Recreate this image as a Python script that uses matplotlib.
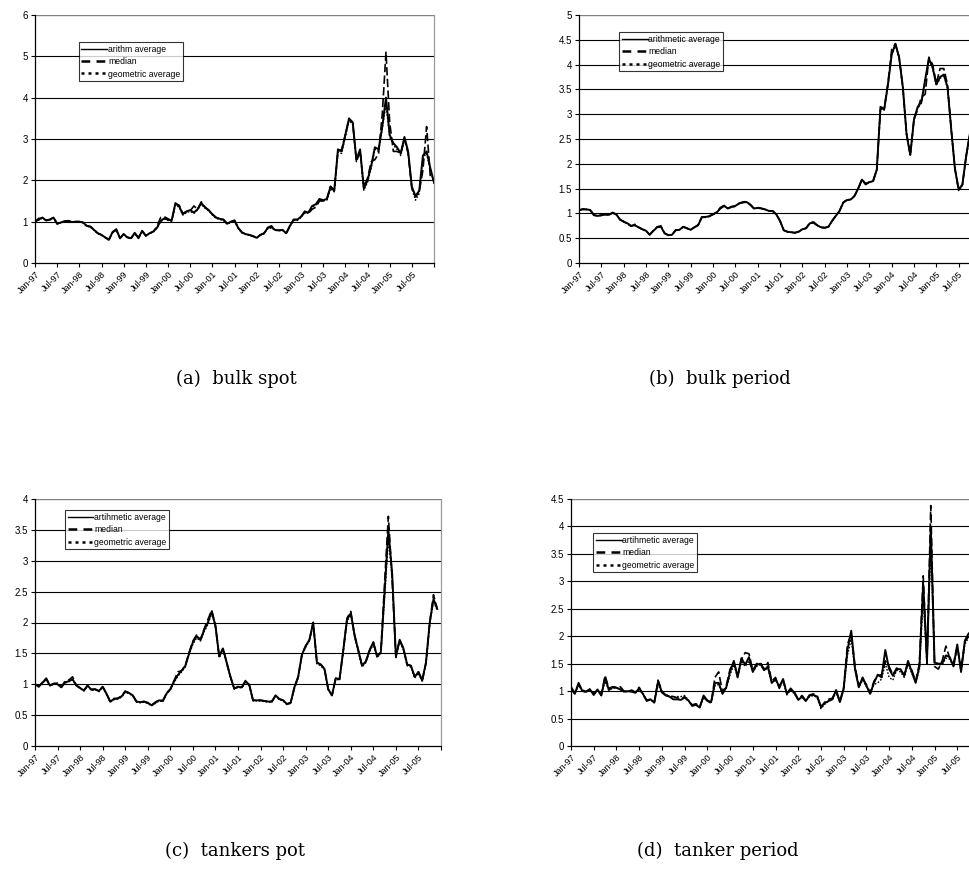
import matplotlib
matplotlib.use('Agg')
import matplotlib.pyplot as plt
from matplotlib.lines import Line2D
import numpy as np

tick_labels = ['Jan-97', 'Jul-97', 'Jan-98', 'Jul-98', 'Jan-99', 'Jul-99', 'Jan-00', 'Jul-00',
               'Jan-01', 'Jul-01', 'Jan-02', 'Jul-02', 'Jan-03', 'Jul-03', 'Jan-04', 'Jul-04',
               'Jan-05', 'Jul-05']

# ---------------- (a) bulk spot ----------------
a_arith = [1.00, 1.05, 1.10, 1.03, 1.05, 1.10, 0.95, 0.98, 1.01, 1.02, 0.99, 1.00,
           1.00, 0.98, 0.90, 0.88, 0.80, 0.72, 0.68, 0.62, 0.56, 0.75, 0.82, 0.60,
           0.70, 0.62, 0.60, 0.73, 0.60, 0.78, 0.66, 0.72, 0.76, 0.85, 1.02, 1.08,
           1.05, 1.03, 1.45, 1.38, 1.18, 1.25, 1.28, 1.22, 1.30, 1.45, 1.35, 1.28,
           1.18, 1.10, 1.07, 1.05, 0.95, 1.00, 1.03, 0.85, 0.74, 0.70, 0.68, 0.65,
           0.61, 0.68, 0.72, 0.85, 0.87, 0.80, 0.79, 0.80, 0.72, 0.90, 1.05, 1.05,
           1.12, 1.25, 1.22, 1.38, 1.42, 1.55, 1.52, 1.55, 1.85, 1.75, 2.75, 2.70,
           3.10, 3.50, 3.40, 2.50, 2.75, 1.80, 2.00, 2.35, 2.80, 2.75, 3.30, 4.00,
           3.10, 2.90, 2.80, 2.65, 3.05, 2.70, 1.85, 1.62, 1.75, 2.60, 2.70, 2.30,
           1.95]
a_median = [1.00, 1.08, 1.08, 1.03, 1.05, 1.10, 0.95, 0.98, 1.01, 1.02, 0.99, 1.00,
            1.00, 0.98, 0.90, 0.88, 0.80, 0.72, 0.68, 0.62, 0.57, 0.74, 0.80, 0.60,
            0.70, 0.62, 0.60, 0.72, 0.62, 0.77, 0.66, 0.72, 0.76, 0.88, 1.10, 1.12,
            1.07, 1.02, 1.42, 1.40, 1.20, 1.24, 1.26, 1.38, 1.30, 1.48, 1.35, 1.28,
            1.18, 1.10, 1.07, 1.05, 0.96, 1.00, 1.03, 0.85, 0.74, 0.70, 0.68, 0.65,
            0.61, 0.68, 0.72, 0.86, 0.90, 0.80, 0.79, 0.80, 0.72, 0.90, 1.05, 1.05,
            1.12, 1.22, 1.20, 1.30, 1.35, 1.50, 1.50, 1.55, 1.85, 1.75, 2.70, 2.75,
            3.10, 3.48, 3.40, 2.45, 2.70, 1.85, 2.05, 2.45, 2.50, 2.65, 3.60, 5.10,
            3.40, 2.70, 2.70, 2.65, 3.00, 2.65, 1.80, 1.60, 1.72, 2.25, 3.30, 2.10,
            2.00]
a_geo = [1.00, 1.04, 1.09, 1.03, 1.04, 1.09, 0.95, 0.98, 1.00, 1.02, 0.99, 1.00,
         0.99, 0.97, 0.89, 0.87, 0.79, 0.71, 0.67, 0.61, 0.55, 0.73, 0.80, 0.59,
         0.69, 0.61, 0.59, 0.71, 0.60, 0.76, 0.65, 0.71, 0.75, 0.84, 1.00, 1.06,
         1.03, 1.01, 1.40, 1.35, 1.16, 1.22, 1.25, 1.20, 1.28, 1.42, 1.33, 1.26,
         1.16, 1.08, 1.05, 1.03, 0.94, 0.98, 1.01, 0.84, 0.73, 0.69, 0.67, 0.64,
         0.60, 0.67, 0.71, 0.83, 0.85, 0.79, 0.78, 0.79, 0.71, 0.88, 1.03, 1.03,
         1.10, 1.22, 1.20, 1.35, 1.40, 1.52, 1.50, 1.52, 1.80, 1.72, 2.68, 2.65,
         3.05, 3.45, 3.35, 2.45, 2.70, 1.76, 1.95, 2.30, 2.75, 2.70, 3.25, 3.85,
         3.05, 2.85, 2.75, 2.60, 3.00, 2.65, 1.80, 1.52, 1.68, 2.55, 2.65, 2.25,
         1.92]

# ---------------- (b) bulk period ----------------
b_arith = [1.07, 1.08, 1.08, 1.07, 0.97, 0.95, 0.96, 0.98, 0.97, 1.01, 0.98, 0.88,
           0.83, 0.80, 0.75, 0.76, 0.72, 0.68, 0.65, 0.57, 0.65, 0.72, 0.73, 0.60,
           0.56, 0.57, 0.66, 0.67, 0.73, 0.70, 0.67, 0.72, 0.76, 0.92, 0.93, 0.94,
           0.98, 1.02, 1.10, 1.15, 1.10, 1.13, 1.15, 1.20, 1.22, 1.23, 1.18, 1.10,
           1.11, 1.10, 1.08, 1.05, 1.05, 0.98, 0.85, 0.66, 0.63, 0.62, 0.61, 0.63,
           0.68, 0.70, 0.80, 0.81, 0.76, 0.72, 0.71, 0.73, 0.85, 0.95, 1.05, 1.22,
           1.27, 1.28, 1.35, 1.50, 1.68, 1.60, 1.63, 1.65, 1.88, 3.15, 3.10, 3.60,
           4.20, 4.42, 4.15, 3.55, 2.60, 2.18, 2.90, 3.15, 3.25, 3.70, 4.12, 3.95,
           3.60, 3.75, 3.80, 3.55, 2.70, 1.90, 1.48, 1.58, 2.15, 2.60]
b_median = [1.06, 1.09, 1.08, 1.06, 0.96, 0.95, 0.97, 0.98, 0.96, 1.02, 0.98, 0.87,
            0.84, 0.79, 0.74, 0.78, 0.72, 0.68, 0.65, 0.57, 0.66, 0.73, 0.75, 0.60,
            0.56, 0.57, 0.67, 0.66, 0.73, 0.70, 0.67, 0.72, 0.77, 0.93, 0.92, 0.95,
            0.98, 1.03, 1.12, 1.16, 1.10, 1.14, 1.14, 1.20, 1.23, 1.24, 1.17, 1.10,
            1.12, 1.10, 1.08, 1.05, 1.05, 0.98, 0.85, 0.66, 0.63, 0.62, 0.61, 0.63,
            0.68, 0.70, 0.81, 0.83, 0.76, 0.72, 0.71, 0.73, 0.85, 0.95, 1.05, 1.22,
            1.27, 1.28, 1.35, 1.50, 1.68, 1.58, 1.63, 1.65, 1.88, 3.10, 3.12, 3.62,
            4.30, 4.42, 4.15, 3.55, 2.60, 2.18, 2.90, 3.10, 3.35, 3.40, 4.15, 4.00,
            3.62, 3.92, 3.92, 3.60, 2.70, 1.90, 1.48, 1.58, 2.15, 2.60]
b_geo = [1.07, 1.08, 1.08, 1.07, 0.97, 0.95, 0.96, 0.98, 0.97, 1.01, 0.98, 0.88,
         0.83, 0.80, 0.75, 0.76, 0.72, 0.68, 0.65, 0.57, 0.65, 0.72, 0.73, 0.60,
         0.56, 0.57, 0.66, 0.67, 0.73, 0.70, 0.67, 0.72, 0.76, 0.92, 0.93, 0.94,
         0.98, 1.02, 1.10, 1.15, 1.10, 1.13, 1.15, 1.20, 1.22, 1.23, 1.18, 1.10,
         1.11, 1.10, 1.08, 1.05, 1.05, 0.98, 0.85, 0.66, 0.63, 0.62, 0.61, 0.63,
         0.68, 0.70, 0.80, 0.81, 0.76, 0.72, 0.71, 0.73, 0.85, 0.95, 1.05, 1.22,
         1.27, 1.28, 1.35, 1.50, 1.68, 1.60, 1.63, 1.65, 1.88, 3.12, 3.08, 3.58,
         4.18, 4.40, 4.12, 3.52, 2.58, 2.16, 2.88, 3.12, 3.22, 3.68, 4.10, 3.92,
         3.58, 3.72, 3.78, 3.52, 2.68, 1.88, 1.46, 1.56, 2.12, 2.58]

# ---------------- (c) tankers pot ----------------
c_arith = [1.00, 0.96, 1.03, 1.08, 0.98, 1.01, 1.00, 0.95, 1.03, 1.05, 1.08, 0.98,
           0.94, 0.90, 0.98, 0.91, 0.92, 0.89, 0.96, 0.85, 0.72, 0.76, 0.77, 0.80,
           0.88, 0.86, 0.82, 0.72, 0.71, 0.72, 0.70, 0.66, 0.70, 0.74, 0.73, 0.85,
           0.92, 1.05, 1.15, 1.22, 1.30, 1.50, 1.68, 1.78, 1.72, 1.88, 2.00, 2.18,
           1.95, 1.45, 1.58, 1.35, 1.12, 0.93, 0.96, 0.95, 1.05, 0.99, 0.74, 0.74,
           0.74, 0.73, 0.72, 0.72, 0.82, 0.76, 0.74, 0.68, 0.70, 0.95, 1.12, 1.48,
           1.62, 1.72, 2.00, 1.35, 1.32, 1.25, 0.92, 0.82, 1.10, 1.08, 1.55, 2.05,
           2.15, 1.80, 1.55, 1.30, 1.37, 1.55, 1.68, 1.45, 1.52, 2.50, 3.50, 2.80,
           1.45, 1.72, 1.58, 1.32, 1.30, 1.12, 1.20, 1.06, 1.35, 2.00, 2.38, 2.22]
c_median = [1.00, 0.97, 1.03, 1.10, 0.98, 1.01, 1.02, 0.96, 1.05, 1.07, 1.12, 0.98,
            0.94, 0.90, 0.98, 0.92, 0.92, 0.89, 0.96, 0.85, 0.72, 0.77, 0.77, 0.81,
            0.89, 0.86, 0.82, 0.72, 0.71, 0.72, 0.70, 0.66, 0.71, 0.75, 0.73, 0.86,
            0.92, 1.06, 1.20, 1.22, 1.31, 1.52, 1.70, 1.80, 1.72, 1.90, 2.05, 2.20,
            1.95, 1.45, 1.58, 1.35, 1.12, 0.93, 0.96, 0.95, 1.06, 0.99, 0.74, 0.74,
            0.74, 0.73, 0.72, 0.72, 0.82, 0.76, 0.74, 0.68, 0.70, 0.95, 1.12, 1.48,
            1.62, 1.72, 2.00, 1.35, 1.32, 1.25, 0.92, 0.82, 1.10, 1.08, 1.55, 2.07,
            2.18, 1.80, 1.55, 1.30, 1.37, 1.55, 1.68, 1.45, 1.52, 2.65, 3.72, 2.70,
            1.45, 1.72, 1.58, 1.32, 1.30, 1.12, 1.20, 1.06, 1.35, 2.00, 2.45, 2.22]
c_geo = [1.00, 0.96, 1.02, 1.07, 0.98, 1.00, 1.00, 0.95, 1.02, 1.04, 1.07, 0.98,
         0.93, 0.89, 0.97, 0.90, 0.91, 0.88, 0.95, 0.84, 0.71, 0.75, 0.76, 0.79,
         0.87, 0.85, 0.81, 0.71, 0.70, 0.71, 0.69, 0.65, 0.69, 0.73, 0.72, 0.84,
         0.91, 1.03, 1.13, 1.20, 1.28, 1.48, 1.65, 1.75, 1.70, 1.85, 1.97, 2.15,
         1.92, 1.43, 1.55, 1.33, 1.10, 0.92, 0.95, 0.94, 1.04, 0.98, 0.73, 0.73,
         0.73, 0.72, 0.71, 0.71, 0.81, 0.75, 0.73, 0.67, 0.69, 0.93, 1.10, 1.45,
         1.60, 1.70, 1.97, 1.33, 1.30, 1.23, 0.91, 0.81, 1.08, 1.07, 1.52, 2.02,
         2.12, 1.77, 1.52, 1.28, 1.35, 1.52, 1.65, 1.43, 1.50, 2.40, 3.35, 2.75,
         1.43, 1.70, 1.55, 1.30, 1.28, 1.10, 1.18, 1.05, 1.33, 1.97, 2.35, 2.20]

# ---------------- (d) tanker period ----------------
d_arith = [1.05, 0.95, 1.15, 1.00, 0.99, 1.03, 0.93, 1.03, 0.92, 1.25, 1.02, 1.07,
           1.06, 1.03, 0.99, 1.00, 0.99, 0.97, 1.05, 0.95, 0.82, 0.85, 0.79, 1.18,
           0.98, 0.92, 0.90, 0.85, 0.85, 0.84, 0.88, 0.83, 0.73, 0.75, 0.70, 0.92,
           0.83, 0.80, 1.15, 1.15, 0.95, 1.07, 1.35, 1.55, 1.25, 1.60, 1.48, 1.62,
           1.35, 1.48, 1.50, 1.38, 1.45, 1.15, 1.22, 1.08, 1.22, 0.95, 1.05, 0.97,
           0.84, 0.90, 0.82, 0.92, 0.93, 0.90, 0.72, 0.78, 0.82, 0.85, 1.02, 0.80,
           1.05, 1.75, 2.10, 1.40, 1.07, 1.25, 1.10, 0.95, 1.15, 1.30, 1.25, 1.75,
           1.40, 1.28, 1.40, 1.40, 1.28, 1.55, 1.35, 1.15, 1.45, 2.95, 1.55, 4.00,
           1.52, 1.50, 1.50, 1.65, 1.62, 1.45, 1.85, 1.35, 1.92, 2.05]
d_median = [1.08, 0.97, 1.12, 1.02, 0.99, 1.04, 0.95, 1.02, 0.93, 1.28, 1.05, 1.08,
            1.07, 1.08, 1.00, 0.99, 1.02, 0.98, 1.07, 0.93, 0.84, 0.85, 0.80, 1.20,
            1.00, 0.93, 0.92, 0.90, 0.88, 0.85, 0.90, 0.82, 0.75, 0.77, 0.72, 0.90,
            0.82, 0.78, 1.25, 1.35, 0.98, 1.10, 1.40, 1.52, 1.30, 1.58, 1.70, 1.68,
            1.38, 1.50, 1.52, 1.40, 1.52, 1.18, 1.25, 1.05, 1.20, 0.97, 1.02, 0.98,
            0.85, 0.92, 0.83, 0.93, 0.95, 0.92, 0.70, 0.80, 0.85, 0.87, 1.00, 0.82,
            1.05, 1.85, 2.05, 1.45, 1.10, 1.22, 1.12, 0.97, 1.18, 1.28, 1.30, 1.55,
            1.45, 1.30, 1.42, 1.38, 1.30, 1.50, 1.38, 1.18, 1.50, 3.10, 1.50, 4.38,
            1.45, 1.40, 1.55, 1.82, 1.60, 1.50, 1.82, 1.40, 1.90, 2.00]
d_geo = [1.03, 0.95, 1.10, 1.00, 0.98, 1.02, 0.94, 1.01, 0.92, 1.18, 1.02, 1.05,
         1.06, 1.04, 0.99, 0.99, 1.00, 0.97, 1.03, 0.95, 0.83, 0.84, 0.80, 1.12,
         0.97, 0.93, 0.91, 0.88, 0.90, 0.90, 0.92, 0.83, 0.74, 0.75, 0.71, 0.88,
         0.82, 0.80, 1.10, 1.12, 0.96, 1.05, 1.30, 1.48, 1.25, 1.55, 1.45, 1.55,
         1.35, 1.45, 1.48, 1.38, 1.42, 1.15, 1.20, 1.08, 1.18, 0.93, 1.02, 0.95,
         0.84, 0.88, 0.82, 0.90, 0.92, 0.88, 0.68, 0.76, 0.82, 0.84, 0.98, 0.80,
         1.02, 1.65, 1.95, 1.38, 1.07, 1.20, 1.08, 0.95, 1.12, 1.15, 1.22, 1.50,
         1.25, 1.20, 1.38, 1.35, 1.25, 1.50, 1.32, 1.15, 1.40, 2.70, 1.52, 3.65,
         1.50, 1.48, 1.48, 1.60, 1.58, 1.45, 1.78, 1.35, 1.85, 1.98]

FS_XTICK = 6.5
FS_YTICK = 7.0
FS_LEG = 6.2
TICKFONT = 'Liberation Sans'

fig = plt.figure(figsize=(9.69, 8.88), dpi=100)
W, H = 969.0, 888.0


def rect(x0, x1, ytop, ybot):
    return [x0 / W, 1 - ybot / H, (x1 - x0) / W, (ybot - ytop) / H]


def panel(r, arith, med, geo, ymax, ystep, labels, leg_xy, caption, cap_xy):
    ax = fig.add_axes(r)
    ax.plot(range(len(geo)), geo, color='black', lw=1.0, ls=(0, (1.2, 1.2)), zorder=3)
    ax.plot(range(len(med)), med, color='black', lw=1.2, ls=(0, (5, 2)), zorder=4)
    ax.plot(range(len(arith)), arith, color='black', lw=1.4, zorder=5)
    ax.set_xlim(0, 108)
    ax.set_ylim(0, ymax)
    yt = np.arange(0, ymax + ystep / 2, ystep)
    ax.set_yticks(yt)
    ax.set_yticklabels(['%g' % v for v in yt], fontsize=FS_YTICK, family=TICKFONT)
    xt = np.arange(0, 108 + 1, 6)
    ax.set_xticks(xt)
    ax.set_xticklabels(tick_labels + [''], rotation=45, ha='right', rotation_mode='anchor',
                       fontsize=FS_XTICK, family=TICKFONT)
    for v in yt[1:-1]:
        ax.axhline(v, color='black', lw=0.8, zorder=1)
    ax.axhline(yt[-1], color='#808080', lw=1.0, zorder=1)
    ax.spines['left'].set_color('black')
    ax.spines['bottom'].set_color('black')
    ax.spines['right'].set_color('#999999')
    ax.spines['top'].set_visible(False)
    for s in ax.spines.values():
        s.set_linewidth(0.9)
    ax.tick_params(axis='both', direction='out', length=3, width=0.8, pad=2, colors='black')
    handles = [Line2D([], [], color='black', lw=1.0),
               Line2D([], [], color='black', lw=1.8, ls=(0, (3.5, 2.5))),
               Line2D([], [], color='black', lw=1.8, ls=(0, (1.2, 1.6)))]
    leg = ax.legend(handles, labels, loc='upper left', bbox_to_anchor=leg_xy,
                    prop={'family': TICKFONT, 'size': FS_LEG}, frameon=True, fancybox=False,
                    handlelength=3.0, handletextpad=0.1, labelspacing=0.4,
                    borderpad=0.3, borderaxespad=0.0)
    leg.get_frame().set_edgecolor('black')
    leg.get_frame().set_linewidth(0.8)
    leg.set_zorder(10)
    fig.text(cap_xy[0] / W, 1 - cap_xy[1] / H, caption, ha='center', va='center',
             fontsize=13, family='DejaVu Serif')
    return ax


labs1 = ['arithm average', 'median', 'geometric average']
labs2 = ['arithmetic average', 'median', 'geometric average']
labs3 = ['artihmetic average', 'median', 'geometric average']

panel(rect(35, 434, 15, 263), a_arith, a_median, a_geo, 6, 1, labs1,
      (0.110, 0.891), '(a)  bulk spot', (236, 379))
panel(rect(579, 981, 15, 263), b_arith, b_median, b_geo, 5, 0.5, labs2,
      (0.0998, 0.931), '(b)  bulk period', (720, 379))
panel(rect(35, 441, 499, 746), c_arith, c_median, c_geo, 4, 0.5, labs3,
      (0.074, 0.955), '(c)  tankers pot', (235, 851))
panel(rect(571, 980, 499, 746), d_arith, d_median, d_geo, 4.5, 0.5, labs3,
      (0.054, 0.862), '(d)  tanker period', (718, 851))

fig.savefig('out.png', dpi=100)
